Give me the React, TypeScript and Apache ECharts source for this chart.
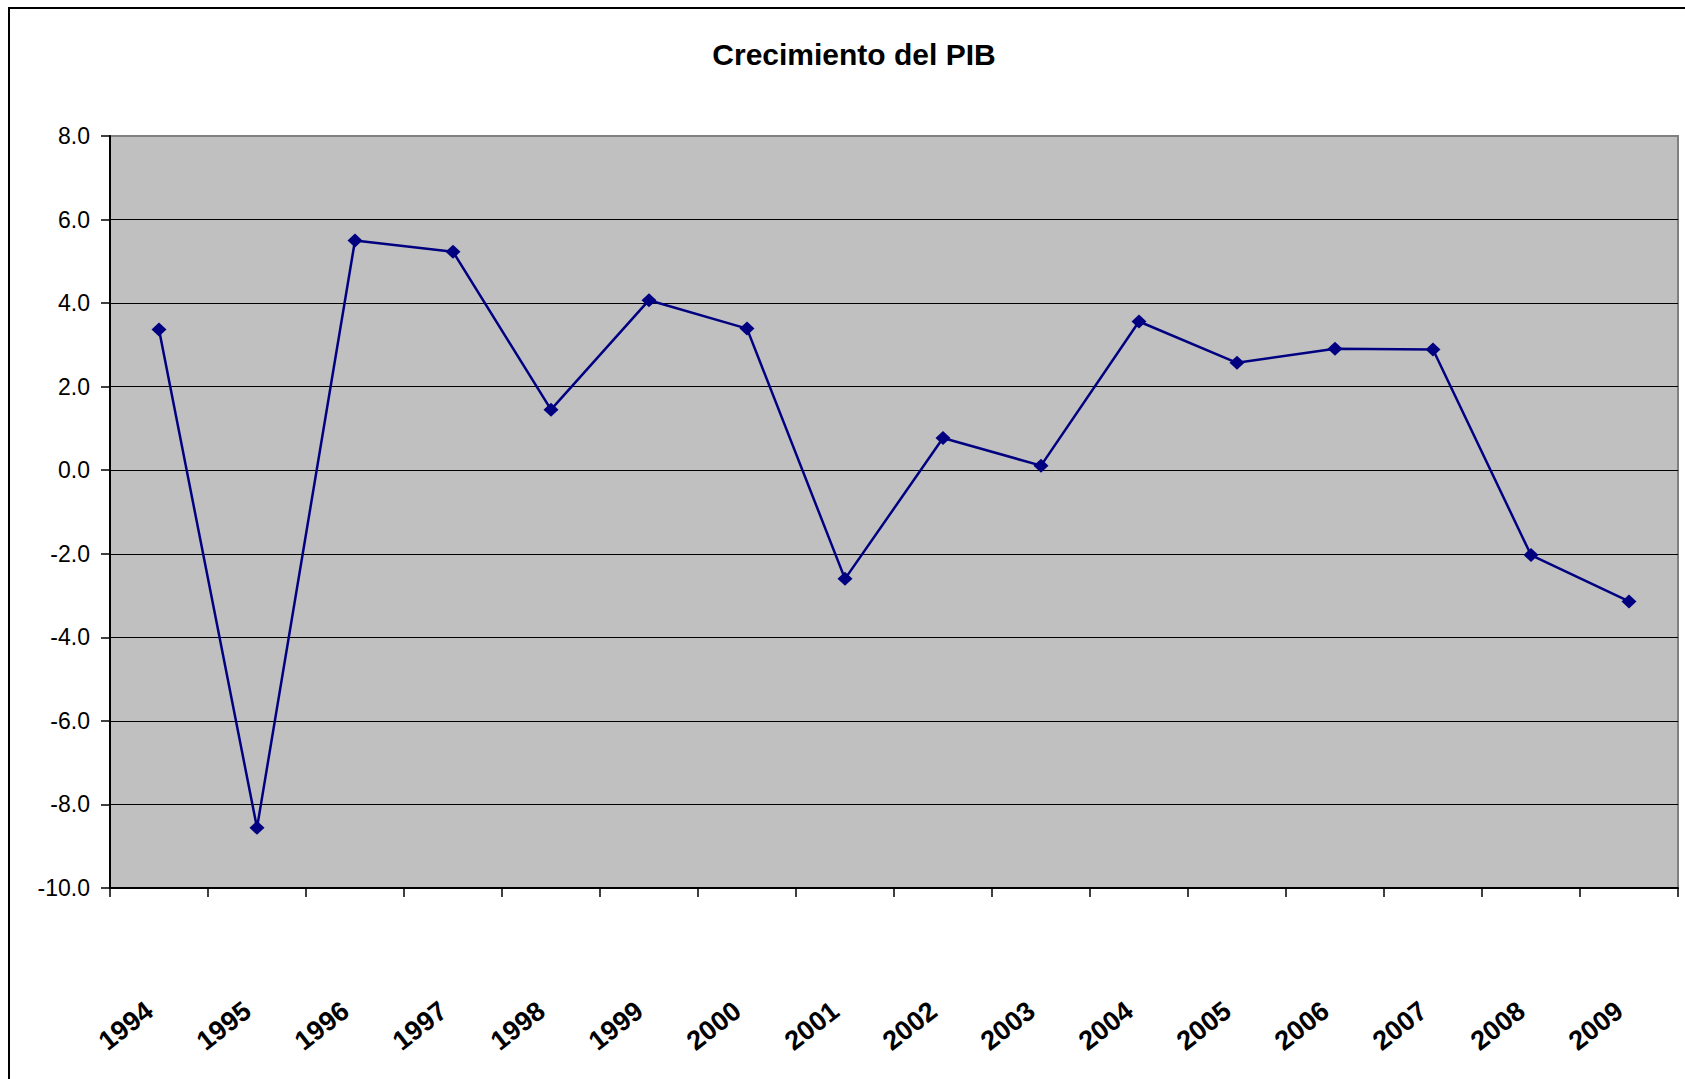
import React, { useEffect, useRef } from "react";
import * as echarts from "echarts";

const years = ["1994", "1995", "1996", "1997", "1998", "1999", "2000", "2001", "2002", "2003", "2004", "2005", "2006", "2007", "2008", "2009"];
const growth = [3.37, -8.56, 5.5, 5.23, 1.45, 4.07, 3.39, -2.6, 0.77, 0.11, 3.56, 2.57, 2.91, 2.89, -2.03, -3.14];
const titleText = "Crecimiento del PIB";
const yMin = -10;
const yMax = 8;
const yStep = 2;

const FONT = "'Liberation Sans', Arial, sans-serif";

export default function App() {
  const ref = useRef<HTMLDivElement>(null);
  useEffect(() => {
    document.body.style.margin = "0";
    const chart = echarts.init(ref.current!, undefined, { renderer: "svg" });
    chart.setOption({
      animation: false,
      backgroundColor: "#ffffff",
      title: {
        text: titleText,
        left: 849,
        textAlign: "center",
        top: 34,
        textStyle: { fontFamily: FONT, fontSize: 30, fontWeight: "bold", color: "#000" },
      },
      graphic: [
        {
          type: "rect",
          shape: { x: 9, y: 8, width: 1720, height: 1120 },
          style: { fill: "none", stroke: "#000", lineWidth: 2 },
          silent: true,
        },
      ],
      grid: {
        left: 110,
        top: 136,
        right: 7,
        bottom: 191,
        show: true,
        backgroundColor: "#c0c0c0",
        borderColor: "#808080",
        borderWidth: 2,
      },
      xAxis: {
        type: "category",
        data: years,
        boundaryGap: true,
        axisLine: { onZero: false, lineStyle: { color: "#000", width: 2 } },
        axisTick: { show: true, length: 9, lineStyle: { color: "#000", width: 1.5 } },
        axisLabel: {
          rotate: 38,
          margin: 112,
          padding: [0, 12, 0, 0],
          fontFamily: FONT,
          fontSize: 27,
          fontWeight: "bold",
          color: "#000",
          interval: 0,
        },
        splitLine: { show: false },
      },
      yAxis: {
        type: "value",
        min: yMin,
        max: yMax,
        interval: yStep,
        axisLine: { show: true, lineStyle: { color: "#000", width: 2 } },
        axisTick: { show: true, length: 9, lineStyle: { color: "#000", width: 1.5 } },
        axisLabel: {
          margin: 20,
          fontFamily: FONT,
          fontSize: 23,
          color: "#000",
          formatter: (v: number) => v.toFixed(1),
        },
        splitLine: {
          show: true,
          showMinLine: false,
          showMaxLine: false,
          lineStyle: { color: "#000", width: 1.2 },
        },
      },
      series: [
        {
          type: "line",
          data: growth,
          symbol: "diamond",
          symbolSize: [15, 14],
          lineStyle: { color: "#000080", width: 2.5 },
          itemStyle: { color: "#000080" },
        },
      ],
    });
    return () => chart.dispose();
  }, []);
  return <div ref={ref} style={{ width: 1685, height: 1079 }} />;
}
